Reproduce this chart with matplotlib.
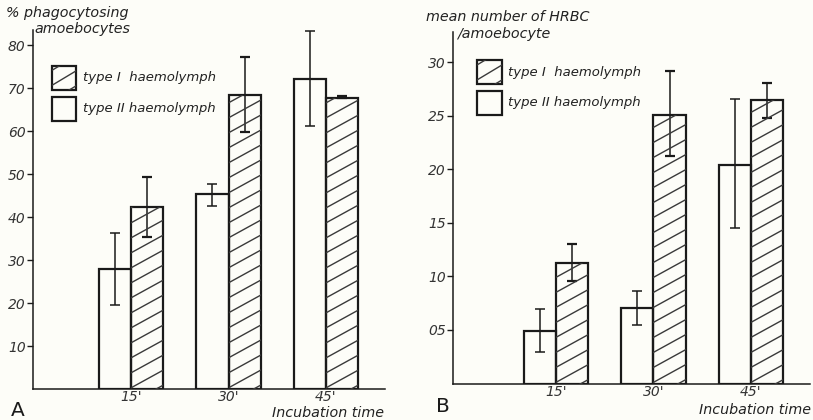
import matplotlib
matplotlib.use("Agg")
import matplotlib.pyplot as plt
import numpy as np
from matplotlib.patches import Rectangle
from matplotlib.lines import Line2D
from matplotlib.transforms import IdentityTransform

# ---------------- data ----------------
times = ["15'", "30'", "45'"]

# Panel A: % phagocytosing amoebocytes
a_type2 = [28.0, 45.3, 72.1]
a_type2_lo = [19.5, 42.6, 61.2]
a_type2_hi = [36.4, 47.7, 83.3]
a_type1 = [42.3, 68.4, 67.8]
a_type1_lo = [35.3, 59.8, 67.6]
a_type1_hi = [49.3, 77.2, 68.1]
a_ticks = [10, 20, 30, 40, 50, 60, 70, 80]
a_ticklabels = ["10", "20", "30", "40", "50", "60", "70", "80"]

# Panel B: mean number of HRBC / amoebocyte (axis labelled in tenths)
b_type2 = [4.9, 7.1, 20.4]
b_type2_lo = [2.9, 5.5, 14.5]
b_type2_hi = [7.0, 8.6, 26.6]
b_type1 = [11.3, 25.1, 26.5]
b_type1_lo = [9.6, 21.3, 24.8]
b_type1_hi = [13.0, 29.2, 28.1]
b_ticks = [5, 10, 15, 20, 25, 30]
b_ticklabels = ["05", "10", "15", "20", "25", "30"]

legend_labels = ["type I  haemolymph", "type II haemolymph"]

# ---------------- style ----------------
BG = "#fdfdf8"
INK = "#1a1a1a"
GREY = "#3a3a3a"
FS = 9.5
FSL = 10.3
W = 0.333

fig = plt.figure(figsize=(8.13, 4.20), dpi=100, facecolor=BG)

def px_axes(x0, y_top, x1, y_bot):
    return fig.add_axes([x0 / 813, (420 - y_bot) / 420, (x1 - x0) / 813, (y_bot - y_top) / 420])

axA = px_axes(33, 30, 385, 389)
axB = px_axes(453, 32, 810, 383.5)

hatch_jobs = []

def hatch_patch(ax, patch, spacing=15.0, slope=0.55):
    hatch_jobs.append((ax, patch, spacing, slope))

def draw_hatches():
    for ax, patch, spacing, slope in hatch_jobs:
        bb = patch.get_window_extent()
        x0, y0, x1, y1 = bb.x0, bb.y0, bb.x1, bb.y1
        w = x1 - x0
        c = -slope * w + 4
        while c < (y1 - y0):
            ln = Line2D([x0, x1], [y0 + c, y0 + c + slope * w],
                        transform=IdentityTransform(), color=GREY, lw=1.0,
                        zorder=patch.get_zorder() + 0.1)
            ln.set_clip_path(patch)
            fig.add_artist(ln)
            c += spacing

def panel(ax, t2, t2lo, t2hi, t1, t1lo, t1hi, ticks, ticklabels, ylim, xlim,
          ylab1, ylab2, ylab_pos, letter, leg):
    ax.set_facecolor("none")
    x = np.arange(len(times))
    b2 = ax.bar(x - W / 2, t2, width=W, facecolor="none", edgecolor=INK, lw=1.6, zorder=3)
    b1 = ax.bar(x + W / 2, t1, width=W, facecolor="none", edgecolor=INK, lw=1.6, zorder=3)
    for p in b1:
        hatch_patch(ax, p)
    t2 = np.array(t2); t1 = np.array(t1)
    ax.errorbar(x - W / 2, t2, yerr=[t2 - np.array(t2lo), np.array(t2hi) - t2],
                fmt="none", ecolor=INK, elinewidth=1.1, capsize=3.5, capthick=1.1, zorder=4)
    ax.errorbar(x + W / 2, t1, yerr=[t1 - np.array(t1lo), np.array(t1hi) - t1],
                fmt="none", ecolor=INK, elinewidth=1.1, capsize=3.5, capthick=1.6, zorder=4)
    ax.set_xlim(*xlim)
    ax.set_ylim(*ylim)
    ax.set_yticks(ticks)
    ax.set_yticklabels(ticklabels, fontstyle="italic", fontsize=FS + 0.5, color="#333333")
    ax.set_xticks(x)
    ax.set_xticklabels(times, fontstyle="italic", fontsize=FS + 0.5, color="#333333")
    ax.tick_params(axis="x", length=0, pad=1)
    ax.tick_params(axis="y", length=4, width=1.0, pad=1.2, color=INK)
    for s in ["top", "right"]:
        ax.spines[s].set_visible(False)
    for s in ["left", "bottom"]:
        ax.spines[s].set_linewidth(1.1)
        ax.spines[s].set_color(INK)
    # y label (two lines)
    (lx1, ly1), (lx2, ly2) = ylab_pos
    fig.text(lx1 / 813, 1 - ly1 / 420, ylab1, fontsize=FSL, fontstyle="italic",
             color="#222222", va="center", ha="left")
    fig.text(lx2 / 813, 1 - ly2 / 420, ylab2, fontsize=FSL, fontstyle="italic",
             color="#222222", va="center", ha="left")
    # panel letter
    fig.text(letter[1] / 813, 1 - letter[2] / 420, letter[0], fontsize=14.5,
             color=INK, va="center", ha="left")
    fig.text(letter[3] / 813, 1 - letter[4] / 420, "Incubation time", fontsize=FSL,
             fontstyle="italic", color="#222222", va="center", ha="right")
    # legend
    bx0, bx1, hy0, hy1, wy0, wy1, tx, ty1, ty2 = leg
    r1 = Rectangle((bx0, hy0), bx1 - bx0, hy1 - hy0, transform=ax.transAxes,
                   facecolor="none", edgecolor=INK, lw=1.6, zorder=5, clip_on=False)
    r2 = Rectangle((bx0, wy0), bx1 - bx0, wy1 - wy0, transform=ax.transAxes,
                   facecolor="none", edgecolor=INK, lw=1.6, zorder=5, clip_on=False)
    ax.add_patch(r1)
    ax.add_patch(r2)
    hatch_patch(ax, r1, spacing=15.0, slope=0.6)
    ax.text(tx, ty1, legend_labels[0], transform=ax.transAxes, fontsize=FS,
            fontstyle="italic", color="#222222", va="center", ha="left")
    ax.text(tx, ty2, legend_labels[1], transform=ax.transAxes, fontsize=FS,
            fontstyle="italic", color="#222222", va="center", ha="left")

panel(axA, a_type2, a_type2_lo, a_type2_hi, a_type1, a_type1_lo, a_type1_hi,
      a_ticks, a_ticklabels, (0, 83.5), (-1.005, 2.605),
      "% phagocytosing", "amoebocytes", ((6, 13), (34, 29)),
      ("A", 11, 410, 384, 413),
      (0.054, 0.122, 0.833, 0.900, 0.747, 0.813, 0.142, 0.869, 0.782))

panel(axB, b_type2, b_type2_lo, b_type2_hi, b_type1, b_type1_lo, b_type1_hi,
      b_ticks, b_ticklabels, (0, 32.85), (-1.056, 2.605),
      "mean number of HRBC", "/amoebocyte", ((426, 17), (457, 34)),
      ("B", 436, 406, 811, 410),
      (0.067, 0.137, 0.852, 0.920, 0.764, 0.832, 0.154, 0.886, 0.800))

draw_hatches()

fig.savefig("out.png", dpi=100, facecolor=BG)
